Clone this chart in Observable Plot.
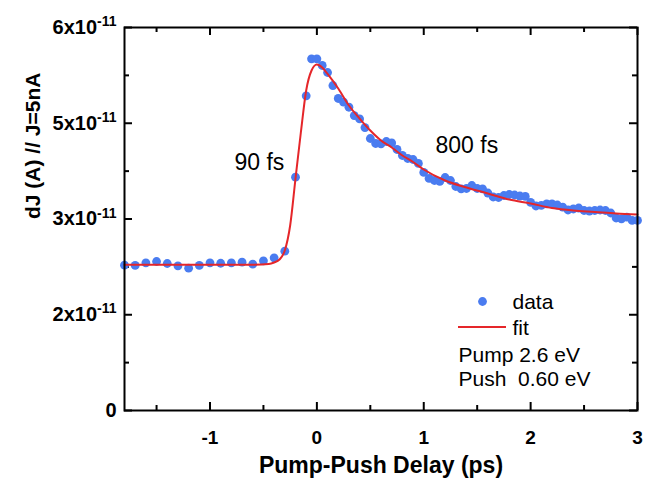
<!DOCTYPE html>
<html><head><meta charset="utf-8">
<script src="https://cdn.jsdelivr.net/npm/d3@7"></script>
<script src="https://cdn.jsdelivr.net/npm/@observablehq/plot@0.6"></script>
<style>body{margin:0;background:#fff}</style>
</head><body><div id="chart"></div>
<script>
// ---- data (delay in ps, signal in axis units) ----
const dataX = [-1.8,-1.7,-1.6,-1.5,-1.4,-1.3,-1.2,-1.1,-1.0,-0.9,-0.8,-0.7,-0.6,-0.5,-0.4,-0.3,-0.2,-0.1,
  -0.05,0,0.05,0.1,0.15,0.2,0.25,0.3,0.35,0.4,0.45,0.5,0.55,0.6,0.65,0.7,0.75,0.8,0.85,0.9,0.95,
  1.0,1.05,1.1,1.15,1.2,1.25,1.3,1.35,1.4,1.45,1.5,1.55,1.6,1.65,1.7,1.75,1.8,1.85,1.9,1.95,
  2.0,2.05,2.1,2.15,2.2,2.25,2.3,2.35,2.4,2.45,2.5,2.55,2.6,2.65,2.7,2.75,2.8,2.85,2.9,2.95,3.0];
const dataY = [2.277,2.272,2.314,2.334,2.303,2.267,2.229,2.272,2.314,2.307,2.314,2.323,2.292,2.345,2.392,2.496,3.655,4.930,
  5.510,5.510,5.405,5.295,5.091,4.888,4.830,4.751,4.621,4.567,4.433,4.261,4.183,4.178,4.214,4.191,4.089,3.995,3.948,3.932,3.870,
  3.729,3.635,3.603,3.588,3.650,3.603,3.509,3.473,3.478,3.525,3.478,3.473,3.407,3.345,3.337,3.368,3.384,3.376,3.360,3.353,
  3.259,3.204,3.212,3.238,3.238,3.219,3.185,3.141,3.157,3.172,3.133,3.125,3.133,3.141,3.133,3.094,3.016,3.003,3.028,2.977,2.977];
const fitX = [-1.8,-0.6,-0.45,-0.4,-0.35,-0.3,-0.25,-0.2,-0.15,-0.1,-0.05,0,0.05,0.1,0.2,0.3,0.4,0.5,0.6,0.7,0.8,0.9,1.0,1.2,1.4,1.6,1.8,2.0,2.2,2.4,2.6,2.8,3.0];
const fitY = [2.283,2.283,2.295,2.319,2.366,2.507,2.898,3.634,4.355,5.013,5.326,5.420,5.373,5.272,5.044,4.778,4.574,4.386,4.230,4.120,3.995,3.893,3.775,3.603,3.493,3.400,3.305,3.243,3.172,3.133,3.110,3.086,3.070];

const xMajor = [-1, 0, 1, 2, 3];
const xMinor = [-1.5, -0.5, 0.5, 1.5, 2.5];
const xTickLabels = ["-1", "0", "1", "2", "3"];
const yMajor = [0, 1.5, 3, 4.5, 6];
const yMinor = [0.75, 2.25, 3.75, 5.25];
const yTickBase = ["0", "2x10", "3x10", "5x10", "6x10"];
const yTickExp = ["", "-11", "-11", "-11", "-11"];
const xTitle = "Pump-Push Delay (ps)";
const yTitle = "dJ (A) // J=5nA";
const legendLabels = ["data", "fit", "Pump 2.6 eV", "Push\u00a0 0.60 eV"];
const annotations = ["90 fs", "800 fs"];

const W = 645, H = 478, mL = 124, mR = 8, mT = 27, mB = 68;
const pH = H - mT - mB, pW = W - mL - mR;
const blue = "#4a7cf0", red = "#e5262a";

const points = dataX.map((x, i) => ({x, y: dataY[i]}));
const fit = fitX.map((x, i) => ({x, y: fitY[i]}));

const tickOpts = {stroke: "black", strokeWidth: 2};
const mid = {lineAnchor: "middle"};
const chart = Plot.plot({
  width: W, height: H,
  marginLeft: mL, marginRight: mR, marginTop: mT, marginBottom: mB,
  x: {domain: [-1.8, 3], axis: null},
  y: {domain: [0, 6], axis: null},
  style: {fontFamily: "'Liberation Sans', Arial, sans-serif", background: "white", color: "black"},
  marks: [
    // ticks (inward, all four sides)
    Plot.tickX(xMajor, {x: d => d, insetTop: pH - 8, ...tickOpts}),
    Plot.tickX(xMinor, {x: d => d, insetTop: pH - 5, ...tickOpts}),
    Plot.tickX(xMajor, {x: d => d, insetBottom: pH - 8, ...tickOpts}),
    Plot.tickX(xMinor, {x: d => d, insetBottom: pH - 5, ...tickOpts}),
    Plot.tickY(yMajor, {y: d => d, insetRight: pW - 8, ...tickOpts}),
    Plot.tickY(yMinor, {y: d => d, insetRight: pW - 5, ...tickOpts}),
    Plot.tickY(yMajor, {y: d => d, insetLeft: pW - 8, ...tickOpts}),
    Plot.tickY(yMinor, {y: d => d, insetLeft: pW - 5, ...tickOpts}),
    // data and fit
    Plot.dot(points, {x: "x", y: "y", r: 4.4, fill: blue, stroke: "none"}),
    Plot.line(fit, {x: "x", y: "y", stroke: red, strokeWidth: 2, curve: "monotone-x"}),
    Plot.frame({stroke: "black", strokeWidth: 2}),
    // tick labels
    Plot.text(xMajor, {x: d => d, frameAnchor: "bottom", dy: 27, ...mid, text: d => xTickLabels[xMajor.indexOf(d)], fontSize: 19, fontWeight: "bold"}),
    Plot.text(yMajor, {y: d => d, frameAnchor: "left", dx: -8, textAnchor: "end", ...mid,
      text: d => { const i = yMajor.indexOf(d); return yTickBase[i] + (yTickExp[i] ? "^" + yTickExp[i] : ""); },
      fontSize: 20, fontWeight: "bold"}),
    // axis titles
    Plot.text([xTitle], {frameAnchor: "bottom", dy: 55, ...mid, fontSize: 23, fontWeight: "bold"}),
    Plot.text([yTitle], {frameAnchor: "left", dx: -91, ...mid, rotate: -90, fontSize: 21, fontWeight: "bold"}),
    // annotations
    Plot.text([annotations[0]], {frameAnchor: "top-left", dx: 110, dy: 135, ...mid, textAnchor: "start", fontSize: 23}),
    Plot.text([annotations[1]], {frameAnchor: "top-left", dx: 311, dy: 118, ...mid, textAnchor: "start", fontSize: 23}),
    // legend
    Plot.dot([legendLabels[0]], {frameAnchor: "top-left", dx: 358, dy: 274, r: 4.4, fill: blue}),
    Plot.text([legendLabels[0]], {frameAnchor: "top-left", dx: 388, dy: 274.5, ...mid, textAnchor: "start", fontSize: 21}),
    Plot.text([legendLabels[1]], {frameAnchor: "top-left", dx: 388, dy: 300.3, ...mid, textAnchor: "start", fontSize: 21}),
    Plot.text([legendLabels[2]], {frameAnchor: "top-left", dx: 334, dy: 328, ...mid, textAnchor: "start", fontSize: 21}),
    Plot.text([legendLabels[3]], {frameAnchor: "top-left", dx: 334, dy: 351.5, ...mid, textAnchor: "start", fontSize: 21})
  ]
});

// superscripts on y tick labels
d3.select(chart).selectAll("text").each(function () {
  const t = d3.select(this);
  const s = t.text();
  if (!s.includes("^")) return;
  const parts = s.split("^");
  t.text(parts[0]);
  t.append("tspan").attr("dy", "-0.55em").attr("font-size", 14).text(parts[1]);
});
// legend line for the fit
d3.select(chart).append("line")
  .attr("x1", mL + 334).attr("x2", mL + 382).attr("y1", mT + 300).attr("y2", mT + 300)
  .attr("stroke", red).attr("stroke-width", 2);

document.getElementById("chart").appendChild(chart);
</script>
</body></html>
